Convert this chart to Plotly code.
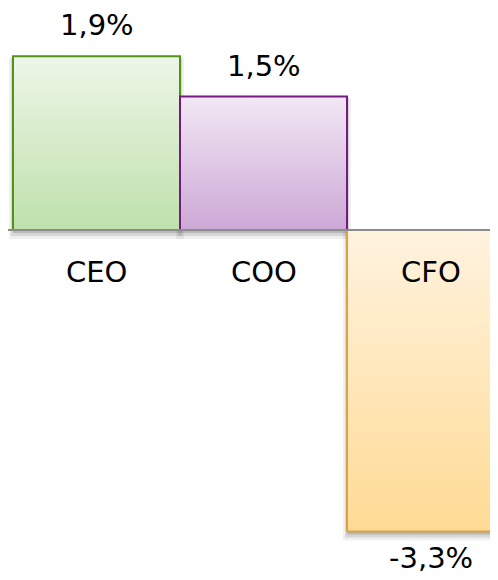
import plotly.graph_objects as go

categories = ["CEO", "COO", "CFO"]
values = [1.9, 1.46, -3.3]
value_labels = ["1,9%", "1,5%", "-3,3%"]

top_colors = ["#EDF6E8", "#F2E8F4", "#FFF3DF"]
bottom_colors = ["#BFE1AB", "#CCA8D6", "#FFDB94"]
line_colors = ["#55921A", "#751A82", "#D9A448"]

# the page body adds an 8px margin, so the figure is drawn 8px in from the corner
OFF = 8
W, H = 498, 580
px_x = 167.0   # pixels per category
px_y = 91.4    # pixels per percentage point
x0 = -0.5 - (13 - OFF) / px_x
y1 = (230 - OFF) / px_y
x_range = [x0, x0 + W / px_x]
y_range = [y1 - H / px_y, y1]

FONT = "DejaVu Sans"
FSIZE = 29

fig = go.Figure()

# soft drop shadows
for i, v in enumerate(values):
    lo, hi = min(0, v), max(0, v)
    for spread, down, alpha in [(4, 5, 0.06), (2, 4, 0.10), (0, 3, 0.14)]:
        dx = spread / px_x
        dy = down / px_y
        ds = spread / px_y
        xs = [i - 0.5 - dx, i + 0.5 + dx, i + 0.5 + dx, i - 0.5 - dx, i - 0.5 - dx]
        ys = [lo - dy - ds, lo - dy - ds, hi - dy + ds, hi - dy + ds, lo - dy - ds]
        fig.add_trace(go.Scatter(
            x=xs, y=ys, mode="lines", fill="toself",
            fillcolor=f"rgba(0,0,0,{alpha})", line=dict(width=0),
            hoverinfo="skip", showlegend=False,
        ))

# bars with vertical gradient
for i, v in enumerate(values):
    lo, hi = min(0, v), max(0, v)
    xs = [i - 0.5, i + 0.5, i + 0.5, i - 0.5, i - 0.5]
    ys = [lo, lo, hi, hi, lo]
    fig.add_trace(go.Scatter(
        x=xs, y=ys, mode="lines", fill="toself",
        fillgradient=dict(
            type="vertical",
            colorscale=[[0, bottom_colors[i]], [1, top_colors[i]]],
            start=lo, stop=hi,
        ),
        line=dict(color=line_colors[i], width=2),
        name=categories[i], hoverinfo="skip", showlegend=False,
    ))

# value labels
for i, v in enumerate(values):
    fig.add_annotation(
        x=i, y=v, text=value_labels[i], showarrow=False,
        xanchor="center", yanchor="middle",
        yshift=31 if v >= 0 else -26,
        font=dict(family=FONT, size=FSIZE, color="#000000"),
    )

# category labels
for i, c in enumerate(categories):
    fig.add_annotation(
        x=i, y=0, text=c, showarrow=False,
        xanchor="center", yanchor="middle", yshift=-42,
        font=dict(family=FONT, size=FSIZE, color="#000000"),
    )

# zero axis line
fig.add_shape(type="line", xref="paper", yref="y", x0=0, x1=1, y0=0, y1=0,
              line=dict(color="#8C8C8C", width=2), layer="above")

fig.update_layout(
    width=W, height=H,
    margin=dict(l=0, r=0, t=0, b=0),
    paper_bgcolor="white", plot_bgcolor="white",
    showlegend=False,
    xaxis=dict(range=x_range, visible=False, fixedrange=True),
    yaxis=dict(range=y_range, visible=False, fixedrange=True),
)

fig.write_html("out.html")
